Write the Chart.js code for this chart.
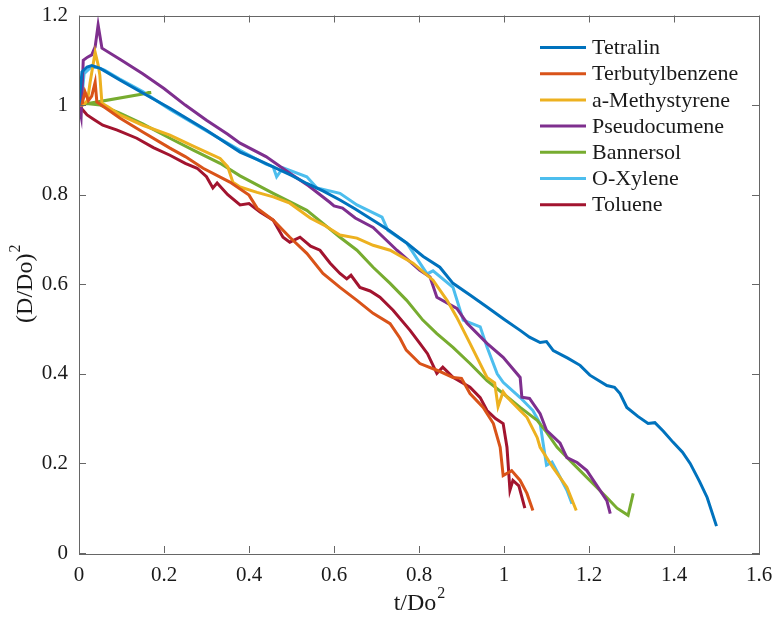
<!DOCTYPE html>
<html>
<head>
<meta charset="utf-8">
<script src="https://cdn.jsdelivr.net/npm/chart.js@4/dist/chart.umd.min.js"></script>
<style>
  html, body { margin: 0; padding: 0; background: #fff; }
</style>
</head>
<body>
<canvas id="chart" width="774" height="619"></canvas>
<script>

// (D/Do)^2 against t/Do^2, one curve per fuel

const seriesNames = ["Tetralin", "Terbutylbenzene", "a-Methystyrene", "Pseudocumene", "Bannersol", "O-Xylene", "Toluene"];
const seriesColors = ["#0072BD", "#D95319", "#EDB120", "#7E2F8E", "#77AC30", "#4DBEEE", "#A2142F"];

const xTicks = [0, 0.2, 0.4, 0.6, 0.8, 1, 1.2, 1.4, 1.6];
const yTicks = [0, 0.2, 0.4, 0.6, 0.8, 1, 1.2];

const tetralinX = [0, 0.007, 0.019, 0.03, 0.05, 0.096, 0.15, 0.214, 0.3, 0.379, 0.42, 0.457, 0.5, 0.536, 0.575, 0.614, 0.65, 0.692, 0.73, 0.771, 0.81, 0.849, 0.88, 0.92, 0.96, 1.0, 1.038, 1.06, 1.085, 1.1, 1.116, 1.15, 1.179, 1.202, 1.242, 1.26, 1.273, 1.289, 1.315, 1.339, 1.355, 1.375, 1.398, 1.42, 1.438, 1.46, 1.478, 1.5];
const tetralinY = [1.0, 1.074, 1.085, 1.088, 1.082, 1.056, 1.027, 0.993, 0.944, 0.895, 0.878, 0.862, 0.843, 0.825, 0.808, 0.788, 0.768, 0.743, 0.72, 0.692, 0.662, 0.638, 0.602, 0.576, 0.549, 0.522, 0.497, 0.482, 0.47, 0.472, 0.452, 0.435, 0.419, 0.397, 0.374, 0.37, 0.356, 0.325, 0.305, 0.289, 0.291, 0.272, 0.247, 0.225, 0.2, 0.16, 0.124, 0.06];

const terbutylX = [0, 0.008, 0.014, 0.022, 0.03, 0.038, 0.042, 0.06, 0.096, 0.15, 0.214, 0.25, 0.292, 0.355, 0.4, 0.419, 0.457, 0.496, 0.536, 0.574, 0.614, 0.654, 0.692, 0.732, 0.755, 0.77, 0.802, 0.842, 0.88, 0.9, 0.92, 0.951, 0.975, 0.991, 0.998, 1.018, 1.038, 1.054, 1.068];
const terbutylY = [1.0, 1.005, 1.03, 1.01, 1.02, 1.051, 1.007, 0.995, 0.971, 0.94, 0.904, 0.885, 0.859, 0.828, 0.799, 0.77, 0.743, 0.705, 0.669, 0.624, 0.593, 0.564, 0.535, 0.512, 0.48, 0.453, 0.423, 0.408, 0.392, 0.39, 0.356, 0.325, 0.289, 0.236, 0.173, 0.184, 0.162, 0.133, 0.095];

const methystyreneX = [0, 0.01, 0.02, 0.026, 0.038, 0.045, 0.049, 0.054, 0.07, 0.096, 0.15, 0.214, 0.27, 0.332, 0.35, 0.362, 0.379, 0.419, 0.457, 0.496, 0.544, 0.58, 0.614, 0.654, 0.692, 0.732, 0.786, 0.833, 0.866, 0.889, 0.92, 0.96, 0.978, 0.986, 0.998, 1.007, 1.038, 1.054, 1.078, 1.085, 1.115, 1.148, 1.17];
const methystyreneY = [1.0, 1.0, 1.01, 1.05, 1.118, 1.09, 1.067, 1.004, 0.995, 0.978, 0.955, 0.933, 0.908, 0.881, 0.862, 0.828, 0.817, 0.805, 0.795, 0.781, 0.748, 0.73, 0.71, 0.703, 0.687, 0.676, 0.647, 0.609, 0.564, 0.526, 0.468, 0.392, 0.38, 0.327, 0.36, 0.348, 0.318, 0.303, 0.258, 0.236, 0.191, 0.147, 0.095];

const pseudocumeneX = [0, 0.005, 0.01, 0.02, 0.03, 0.038, 0.045, 0.054, 0.1, 0.15, 0.2, 0.25, 0.3, 0.35, 0.379, 0.44, 0.496, 0.54, 0.59, 0.6, 0.62, 0.65, 0.692, 0.748, 0.802, 0.826, 0.842, 0.889, 0.913, 0.96, 0.998, 1.038, 1.042, 1.06, 1.085, 1.1, 1.132, 1.148, 1.172, 1.195, 1.226, 1.242, 1.25];
const pseudocumeneY = [1.0, 0.975, 1.1, 1.107, 1.112, 1.13, 1.179, 1.127, 1.1, 1.07, 1.037, 1.0, 0.966, 0.935, 0.915, 0.885, 0.848, 0.82, 0.783, 0.775, 0.77, 0.748, 0.727, 0.676, 0.631, 0.616, 0.571, 0.546, 0.513, 0.468, 0.437, 0.392, 0.348, 0.345, 0.311, 0.274, 0.245, 0.213, 0.202, 0.184, 0.14, 0.117, 0.088];

const bannersolX = [0, 0.17, 0.02, 0.05, 0.096, 0.15, 0.214, 0.27, 0.332, 0.379, 0.457, 0.536, 0.574, 0.614, 0.654, 0.692, 0.732, 0.771, 0.809, 0.842, 0.88, 0.92, 0.96, 0.998, 1.038, 1.078, 1.1, 1.125, 1.162, 1.202, 1.242, 1.266, 1.292, 1.304];
const bannersolY = [1.0, 1.028, 1.003, 1.0, 0.982, 0.958, 0.926, 0.899, 0.87, 0.842, 0.803, 0.765, 0.736, 0.705, 0.676, 0.638, 0.602, 0.564, 0.52, 0.49, 0.459, 0.423, 0.385, 0.356, 0.325, 0.296, 0.27, 0.236, 0.2, 0.162, 0.124, 0.1, 0.084, 0.133];

const oxyleneX = [0, 0.005, 0.012, 0.025, 0.04, 0.06, 0.096, 0.15, 0.214, 0.3, 0.379, 0.44, 0.457, 0.465, 0.48, 0.536, 0.56, 0.614, 0.654, 0.713, 0.727, 0.771, 0.819, 0.833, 0.88, 0.904, 0.944, 0.96, 0.984, 0.998, 1.038, 1.068, 1.085, 1.092, 1.1, 1.113, 1.132, 1.148, 1.16];
const oxyleneY = [1.0, 1.0, 1.07, 1.082, 1.085, 1.078, 1.058, 1.03, 0.99, 0.942, 0.899, 0.868, 0.862, 0.84, 0.86, 0.84, 0.815, 0.803, 0.777, 0.75, 0.72, 0.692, 0.623, 0.63, 0.593, 0.52, 0.505, 0.46, 0.4, 0.381, 0.347, 0.318, 0.289, 0.245, 0.196, 0.203, 0.169, 0.14, 0.11];

const tolueneX = [0, 0.008, 0.019, 0.035, 0.056, 0.09, 0.136, 0.175, 0.214, 0.25, 0.278, 0.3, 0.315, 0.325, 0.35, 0.379, 0.4, 0.426, 0.457, 0.48, 0.496, 0.52, 0.545, 0.567, 0.591, 0.614, 0.63, 0.64, 0.661, 0.685, 0.708, 0.739, 0.779, 0.802, 0.82, 0.842, 0.856, 0.88, 0.92, 0.944, 0.96, 0.98, 0.998, 1.007, 1.014, 1.021, 1.035, 1.049];
const tolueneY = [1.0, 0.99, 0.978, 0.968, 0.955, 0.944, 0.926, 0.905, 0.888, 0.87, 0.859, 0.84, 0.815, 0.826, 0.8, 0.777, 0.78, 0.761, 0.743, 0.705, 0.694, 0.705, 0.685, 0.676, 0.647, 0.624, 0.612, 0.62, 0.593, 0.585, 0.571, 0.542, 0.497, 0.468, 0.445, 0.401, 0.415, 0.392, 0.37, 0.347, 0.318, 0.3, 0.289, 0.236, 0.14, 0.162, 0.15, 0.1];

const seriesX = [tetralinX, terbutylX, methystyreneX, pseudocumeneX, bannersolX, oxyleneX, tolueneX];
const seriesY = [tetralinY, terbutylY, methystyreneY, pseudocumeneY, bannersolY, oxyleneY, tolueneY];

const serif = "'Liberation Serif', 'Times New Roman', serif";
const textColor = "#1a1a1a";
const axisColor = "#666666";

function fmt(v) {
    return String(Number(v.toFixed(1)));
}

// box round the plot, with short ticks pointing inwards on all four sides
const framePlugin = {
    id: "frame",
    afterDraw(chart) {
        const { ctx, chartArea: a, scales } = chart;
        ctx.save();
        ctx.strokeStyle = axisColor;
        ctx.lineWidth = 1;
        ctx.strokeRect(Math.round(a.left) + 0.5, Math.round(a.top) + 0.5,
            Math.round(a.right - a.left), Math.round(a.bottom - a.top));
        ctx.beginPath();
        for (const v of xTicks) {
            const px = Math.round(scales.x.getPixelForValue(v)) + 0.5;
            ctx.moveTo(px, a.bottom); ctx.lineTo(px, a.bottom - 7);
            ctx.moveTo(px, a.top); ctx.lineTo(px, a.top + 7);
        }
        for (const v of yTicks) {
            const py = Math.round(scales.y.getPixelForValue(v)) + 0.5;
            ctx.moveTo(a.left, py); ctx.lineTo(a.left + 7, py);
            ctx.moveTo(a.right, py); ctx.lineTo(a.right - 7, py);
        }
        ctx.stroke();
        ctx.restore();
    }
};

// legend sits inside the plot, top right
const insideLegend = {
    id: "insideLegend",
    afterDraw(chart) {
        const { ctx, chartArea: a } = chart;
        const x0 = a.right - 219;
        const y0 = a.top + 32;
        ctx.save();
        ctx.font = "22px " + serif;
        ctx.textBaseline = "middle";
        chart.data.datasets.forEach((ds, i) => {
            const y = y0 + i * 26.2;
            ctx.strokeStyle = ds.borderColor;
            ctx.lineWidth = 3;
            ctx.beginPath();
            ctx.moveTo(x0, y);
            ctx.lineTo(x0 + 46, y);
            ctx.stroke();
            ctx.fillStyle = textColor;
            ctx.fillText(ds.label, x0 + 52, y + 1);
        });
        ctx.restore();
    }
};

// axis titles with a raised 2
const axisTitles = {
    id: "axisTitles",
    afterDraw(chart) {
        const { ctx, chartArea: a } = chart;
        ctx.save();
        ctx.fillStyle = textColor;
        ctx.textBaseline = "alphabetic";

        ctx.font = "24px " + serif;
        const xMain = "t/Do";
        const wMain = ctx.measureText(xMain).width;
        ctx.font = "16px " + serif;
        const wSup = ctx.measureText("2").width;
        let sx = (a.left + a.right) / 2 - (wMain + wSup) / 2;
        ctx.font = "24px " + serif;
        ctx.fillText(xMain, sx, 610);
        ctx.font = "16px " + serif;
        ctx.fillText("2", sx + wMain + 1, 598);

        ctx.translate(32, (a.top + a.bottom) / 2);
        ctx.rotate(-Math.PI / 2);
        ctx.font = "24px " + serif;
        const yMain = "(D/Do)";
        const wy = ctx.measureText(yMain).width;
        sx = -(wy + wSup) / 2;
        ctx.fillText(yMain, sx, 0);
        ctx.font = "16px " + serif;
        ctx.fillText("2", sx + wy + 1, -12);
        ctx.restore();
    }
};

function plot_droplets(canvasId) {

    const ctx = document.getElementById(canvasId);

    const datasets = seriesNames.map((name, i) => ({
        label: name,
        data: seriesX[i].map((x, j) => ({ x: x, y: seriesY[i][j] })),
        borderColor: seriesColors[i],
        backgroundColor: seriesColors[i],
        borderWidth: 3,
        pointRadius: 0,
        showLine: true,
        tension: 0
    }));

    new Chart(ctx, {
        type: "scatter",
        data: { datasets: datasets },
        options: {
            responsive: false,
            animation: false,
            layout: { padding: { left: 0, right: 15, top: 15.5, bottom: 0 } },
            plugins: {
                legend: { display: false },
                tooltip: { enabled: false }
            },
            scales: {
                x: {
                    type: "linear",
                    min: 0,
                    max: 1.6,
                    afterBuildTicks: (scale) => { scale.ticks = xTicks.map(v => ({ value: v })); },
                    afterFit: (scale) => {
                        scale.height = 66;
                        scale.paddingLeft = 0;
                        scale.paddingRight = 0;
                    },
                    grid: { display: false, drawTicks: false },
                    border: { display: false },
                    ticks: {
                        padding: 10,
                        color: textColor,
                        font: { family: serif, size: 21 },
                        callback: (v) => fmt(v)
                    }
                },
                y: {
                    type: "linear",
                    min: 0,
                    max: 1.2,
                    afterBuildTicks: (scale) => { scale.ticks = yTicks.map(v => ({ value: v })); },
                    afterFit: (scale) => {
                        scale.width = 79;
                        scale.paddingTop = 0;
                        scale.paddingBottom = 0;
                    },
                    grid: { display: false, drawTicks: false },
                    border: { display: false },
                    ticks: {
                        padding: 11,
                        color: textColor,
                        font: { family: serif, size: 21 },
                        callback: (v) => fmt(v)
                    }
                }
            }
        },
        plugins: [framePlugin, insideLegend, axisTitles]
    });
}

plot_droplets("chart");
</script>
</body>
</html>
